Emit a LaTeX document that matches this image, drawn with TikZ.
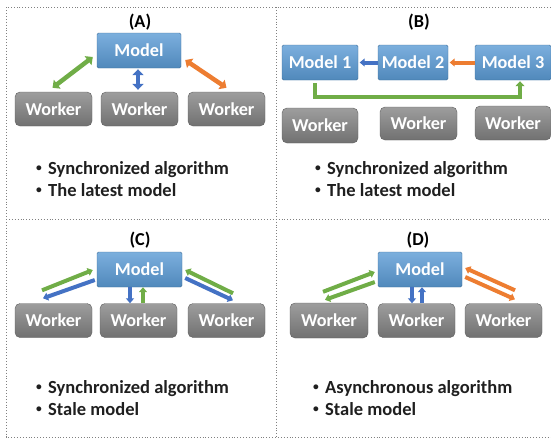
\documentclass[tikz,border=0pt]{standalone}
\usepackage{fontspec}
\setmainfont{Carlito}
\usetikzlibrary{arrows.meta,calc}
\definecolor{modelblue}{HTML}{5B9BD5}
\definecolor{modeldark}{HTML}{41719C}
\definecolor{workgray}{HTML}{858585}
\definecolor{workdark}{HTML}{5F5F5F}
\definecolor{lgreen}{HTML}{70AD47}
\definecolor{lblue}{HTML}{4472C4}
\definecolor{lorange}{HTML}{ED7D31}
\newcommand{\BUL}{\makebox[12pt][l]{\raisebox{0.32ex}{\scalebox{0.62}{\textbullet}}}}

\begin{document}
\begin{tikzpicture}[
    x=1pt, y=-1pt,
    model/.style={draw=modeldark, top color=modelblue!80!white, bottom color=modelblue!88!black,
        rounded corners=1.5pt, text=white, font=\fontsize{18.2}{20}\selectfont\bfseries,
        minimum height=35pt, inner sep=0pt},
    worker/.style={draw=workdark, top color=workgray!80!white, bottom color=workgray!85!black,
        rounded corners=5pt, text=white, font=\fontsize{18.2}{20}\selectfont\bfseries,
        minimum width=77pt, minimum height=34pt, inner sep=0pt},
    title/.style={font=\fontsize{18.2}{20}\selectfont\bfseries},
    notes/.style={anchor=west, align=left, inner sep=0pt, text=black!88,
        font=\fontsize{18.5}{22}\selectfont\bfseries},
    bigarr/.style={line width=4.5pt, {Triangle[length=6pt,width=11pt]}-{Triangle[length=6pt,width=11pt]}},
    thinarr/.style={line width=4pt, -{Triangle[length=5pt,width=8pt]}},
    frame/.style={gray, dotted, line width=0.9pt}
]
\useasboundingbox (0,0) rectangle (551,440);

% Frame
\draw[frame] (551,7) -- (6,7) -- (6,437) -- (551,437);
\draw[frame] (276,7) -- (276,437);
\draw[frame] (6,219) -- (551,219);

% (A) one model, synchronized
\node[title] (tA) at (140,22) {(A)};
\node[model, minimum width=84pt] (mA) at (139,50.5) {Model};
\node[worker] (wA1) at (53.5,109) {Worker};
\node[worker] (wA2) at (139.5,109) {Worker};
\node[worker] (wA3) at (226.5,109) {Worker};
\draw[bigarr, lgreen] ($(wA1.north)+(-1,-4)$) -- ($(mA.west)+(-4,6.5)$);
\draw[bigarr, lblue] ($(mA.south)+(-1,1)$) -- ($(wA2.north)+(-1.5,-2)$);
\draw[bigarr, lorange] ($(mA.east)+(4,9.5)$) -- ($(wA3.north)+(0,-4)$);
\node[notes] (nA) at (36,179) {\BUL Synchronized algorithm\\ \BUL The latest model};

% (B) chain of models
\node[title] (tB) at (419,22) {(B)};
\node[model, minimum width=76pt] (mB1) at (320,62.5) {Model 1};
\node[model, minimum width=70pt] (mB2) at (413,62.5) {Model 2};
\node[model, minimum width=76pt] (mB3) at (513,62.5) {Model 3};
\draw[thinarr, lblue] (mB2.west) -- ($(mB1.east)+(1.5,0)$);
\draw[thinarr, lorange] (mB3.west) -- ($(mB2.east)+(1.5,0)$);
\draw[lgreen, line width=4.5pt, -{Triangle[length=5pt,width=9pt]}]
    ($(mB1.south)+(-5,3)$) -- ++(0,14) -| ($(mB3.south)+(7,1)$);
\node[worker, minimum width=76pt, minimum height=35pt] (wB1) at (320,125.5) {Worker};
\node[worker, minimum height=33pt] (wB2) at (418.5,123.5) {Worker};
\node[worker, minimum width=76pt] (wB3) at (513,123) {Worker};
\node[notes] (nB) at (315,179) {\BUL Synchronized algorithm\\ \BUL The latest model};

% (C) one model, stale
\node[title] (tC) at (140,240) {(C)};
\node[model, minimum width=85pt] (mC) at (139.5,269.5) {Model};
\node[worker] (wC1) at (53.5,320.5) {Worker};
\node[worker] (wC2) at (138.5,320.5) {Worker};
\node[worker] (wC3) at (226.5,320.5) {Worker};
\draw[thinarr, lgreen] ($(wC1.north)+(-11.5,-13)$) -- ($(mC.west)+(-4,0.5)$);
\draw[thinarr, lblue] ($(mC.west)+(-2,10.5)$) -- ($(wC1.north)+(-10.5,-5)$);
\draw[thinarr, lblue] ($(mC.south)+(-9.5,0)$) -- ($(wC2.north)+(-8.5,0)$);
\draw[thinarr, lgreen] ($(wC2.north)+(4.5,0)$) -- ($(mC.south)+(3.5,0)$);
\draw[thinarr, lgreen] ($(wC3.north)+(6.5,-10)$) -- ($(mC.east)+(3,0.5)$);
\draw[thinarr, lblue] ($(mC.east)+(3,8.5)$) -- ($(wC3.north)+(6.5,-3)$);
\node[notes] (nC) at (36,398) {\BUL Synchronized algorithm\\ \BUL Stale model};

% (D) one model, asynchronous
\node[title] (tD) at (418,240) {(D)};
\node[model, minimum width=84pt] (mD) at (420,269.5) {Model};
\node[worker, minimum width=78pt, minimum height=35pt] (wD1) at (329,320.5) {Worker};
\node[worker] (wD2) at (416.5,320.5) {Worker};
\node[worker] (wD3) at (503.5,320.5) {Worker};
\draw[thinarr, lgreen] ($(wD1.north)+(-6,-11)$) -- ($(mD.west)+(-3,2.5)$);
\draw[thinarr, lgreen] ($(mD.west)+(-3,12.5)$) -- ($(wD1.north)+(-4,-3)$);
\draw[thinarr, lblue] ($(mD.south)+(-8,0)$) -- ($(wD2.north)+(-4.5,0)$);
\draw[thinarr, lblue] ($(wD2.north)+(5.5,0)$) -- ($(mD.south)+(2,0)$);
\draw[thinarr, lorange] ($(wD3.north)+(11.5,-13)$) -- ($(mD.east)+(3,-1.5)$);
\draw[thinarr, lorange] ($(mD.east)+(3,7.5)$) -- ($(wD3.north)+(11.5,-4)$);
\node[notes] (nD) at (313,398) {\BUL Asynchronous algorithm\\ \BUL Stale model};

\end{tikzpicture}
\end{document}
